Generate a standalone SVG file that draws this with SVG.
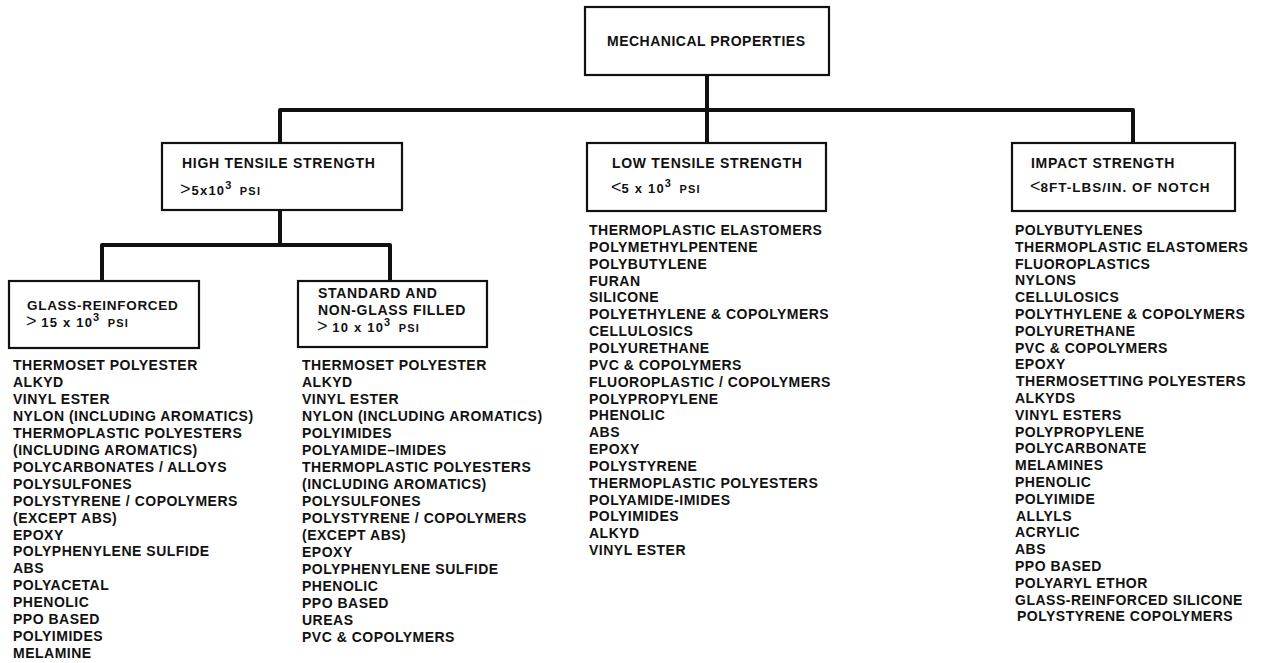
<svg xmlns="http://www.w3.org/2000/svg" width="1267" height="663" viewBox="0 0 1267 663">
<style>
  .box { fill: #fff; stroke: #111; stroke-width: 2.2; }
  .conn { fill: none; stroke: #111; stroke-width: 4; stroke-linejoin: round; }
  text { font-family: "Liberation Sans", Arial, sans-serif; font-weight: bold; fill: #111; }
  .hd { font-size: 14px; letter-spacing: 0.7px; }
  .val { font-size: 13px; letter-spacing: 1.2px; }
  .sym { font-weight: normal; font-size: 18px; letter-spacing: 0; }
  .sup { font-size: 11px; }
  .psi { font-size: 11px; }
  .lst { font-size: 14px; letter-spacing: 0.5px; }
</style>
<rect width="1267" height="663" fill="#fff"/>
<g id="connectors">
  <path class="conn" d="M707,75 V110"/>
  <path class="conn" d="M280,143 V110 H1133 V143"/>
  <path class="conn" d="M707,110 V143"/>
  <path class="conn" d="M280,210 V245"/>
  <path class="conn" d="M102,281 V245 H390 V281"/>
</g>
<g id="mechanical-properties">
  <rect class="box" x="585" y="7" width="244" height="68"/>
  <text class="hd" x="607" y="46" style="letter-spacing:0.5px">MECHANICAL PROPERTIES</text>
</g>
<g id="high-tensile">
  <rect class="box" x="162" y="143" width="240" height="67"/>
  <text class="hd" x="182" y="168">HIGH TENSILE STRENGTH</text>
  <text class="val" x="180" y="195"><tspan class="sym">&gt;</tspan><tspan dx="1">5x10</tspan><tspan class="sup" dy="-6">3</tspan><tspan class="psi" dy="6" dx="3"> PSI</tspan></text>
</g>
<g id="low-tensile">
  <rect class="box" x="587" y="143" width="239" height="68"/>
  <text class="hd" x="612" y="168">LOW TENSILE STRENGTH</text>
  <text class="val" x="611" y="193"><tspan class="sym">&lt;</tspan>5 x 10<tspan class="sup" dy="-6">3</tspan><tspan class="psi" dy="6" dx="3"> PSI</tspan></text>
  <text class="lst" x="589"><tspan x="589" y="235">THERMOPLASTIC ELASTOMERS</tspan><tspan x="589" dy="16.85">POLYMETHYLPENTENE</tspan><tspan x="589" dy="16.85">POLYBUTYLENE</tspan><tspan x="589" dy="16.85">FURAN</tspan><tspan x="589" dy="16.85">SILICONE</tspan><tspan x="589" dy="16.85">POLYETHYLENE &amp; COPOLYMERS</tspan><tspan x="589" dy="16.85">CELLULOSICS</tspan><tspan x="589" dy="16.85">POLYURETHANE</tspan><tspan x="589" dy="16.85">PVC &amp; COPOLYMERS</tspan><tspan x="589" dy="16.85">FLUOROPLASTIC / COPOLYMERS</tspan><tspan x="589" dy="16.85">POLYPROPYLENE</tspan><tspan x="589" dy="16.85">PHENOLIC</tspan><tspan x="589" dy="16.85">ABS</tspan><tspan x="589" dy="16.85">EPOXY</tspan><tspan x="589" dy="16.85">POLYSTYRENE</tspan><tspan x="589" dy="16.85">THERMOPLASTIC POLYESTERS</tspan><tspan x="589" dy="16.85">POLYAMIDE-IMIDES</tspan><tspan x="589" dy="16.85">POLYIMIDES</tspan><tspan x="589" dy="16.85">ALKYD</tspan><tspan x="589" dy="16.85">VINYL ESTER</tspan></text>
</g>
<g id="impact-strength">
  <rect class="box" x="1012" y="143" width="223" height="68"/>
  <text class="hd" x="1031" y="168">IMPACT STRENGTH</text>
  <text class="val" x="1030" y="192" style="font-size:13.5px;letter-spacing:1px"><tspan class="sym">&lt;</tspan>8FT-LBS/IN. OF  NOTCH</text>
  <text class="lst" x="1015"><tspan x="1015" y="235">POLYBUTYLENES</tspan><tspan x="1015" dy="16.8">THERMOPLASTIC ELASTOMERS</tspan><tspan x="1015" dy="16.8">FLUOROPLASTICS</tspan><tspan x="1015" dy="16.8">NYLONS</tspan><tspan x="1015" dy="16.8">CELLULOSICS</tspan><tspan x="1015" dy="16.8">POLYTHYLENE &amp; COPOLYMERS</tspan><tspan x="1015" dy="16.8">POLYURETHANE</tspan><tspan x="1015" dy="16.8">PVC &amp; COPOLYMERS</tspan><tspan x="1015" dy="16.8">EPOXY</tspan><tspan x="1016" dy="16.8">THERMOSETTING POLYESTERS</tspan><tspan x="1015" dy="16.8">ALKYDS</tspan><tspan x="1015" dy="16.8">VINYL ESTERS</tspan><tspan x="1015" dy="16.8">POLYPROPYLENE</tspan><tspan x="1015" dy="16.8">POLYCARBONATE</tspan><tspan x="1015" dy="16.8">MELAMINES</tspan><tspan x="1015" dy="16.8">PHENOLIC</tspan><tspan x="1015" dy="16.8">POLYIMIDE</tspan><tspan x="1016" dy="16.8">ALLYLS</tspan><tspan x="1015" dy="16.8">ACRYLIC</tspan><tspan x="1015" dy="16.8">ABS</tspan><tspan x="1015" dy="16.8">PPO BASED</tspan><tspan x="1015" dy="16.8">POLYARYL ETHOR</tspan><tspan x="1015" dy="16.8">GLASS-REINFORCED SILICONE</tspan><tspan x="1017" dy="16.8">POLYSTYRENE COPOLYMERS</tspan></text>
</g>
<g id="glass-reinforced">
  <rect class="box" x="9" y="281" width="190" height="67"/>
  <text class="hd" x="27" y="310" style="font-size:13.5px">GLASS-REINFORCED</text>
  <text class="val" x="26" y="327"><tspan class="sym">&gt;</tspan> 15 x 10<tspan class="sup" dy="-6">3</tspan><tspan class="psi" dy="6" dx="3"> PSI</tspan></text>
  <text class="lst" x="13"><tspan x="13" y="370">THERMOSET POLYESTER</tspan><tspan x="13" dy="16.95">ALKYD</tspan><tspan x="13" dy="16.95">VINYL ESTER</tspan><tspan x="13" dy="16.95">NYLON (INCLUDING AROMATICS)</tspan><tspan x="13" dy="16.95">THERMOPLASTIC POLYESTERS</tspan><tspan x="13" dy="16.95">(INCLUDING AROMATICS)</tspan><tspan x="13" dy="16.95">POLYCARBONATES / ALLOYS</tspan><tspan x="13" dy="16.95">POLYSULFONES</tspan><tspan x="13" dy="16.95">POLYSTYRENE / COPOLYMERS</tspan><tspan x="13" dy="16.95">(EXCEPT ABS)</tspan><tspan x="13" dy="16.95">EPOXY</tspan><tspan x="13" dy="16.95">POLYPHENYLENE SULFIDE</tspan><tspan x="13" dy="16.95">ABS</tspan><tspan x="13" dy="16.95">POLYACETAL</tspan><tspan x="13" dy="16.95">PHENOLIC</tspan><tspan x="13" dy="16.95">PPO BASED</tspan><tspan x="13" dy="16.95">POLYIMIDES</tspan><tspan x="13" dy="16.95">MELAMINE</tspan></text>
</g>
<g id="standard-non-glass">
  <rect class="box" x="298" y="281" width="189" height="66"/>
  <text class="hd" x="318" y="298">STANDARD AND</text>
  <text class="hd" x="318" y="315">NON-GLASS FILLED</text>
  <text class="val" x="317" y="332"><tspan class="sym">&gt;</tspan> 10 x 10<tspan class="sup" dy="-6">3</tspan><tspan class="psi" dy="6" dx="3"> PSI</tspan></text>
  <text class="lst" x="302"><tspan x="302" y="370">THERMOSET POLYESTER</tspan><tspan x="302" dy="17">ALKYD</tspan><tspan x="302" dy="17">VINYL ESTER</tspan><tspan x="302" dy="17">NYLON (INCLUDING AROMATICS)</tspan><tspan x="302" dy="17">POLYIMIDES</tspan><tspan x="302" dy="17">POLYAMIDE–IMIDES</tspan><tspan x="302" dy="17">THERMOPLASTIC POLYESTERS</tspan><tspan x="302" dy="17">(INCLUDING AROMATICS)</tspan><tspan x="302" dy="17">POLYSULFONES</tspan><tspan x="302" dy="17">POLYSTYRENE / COPOLYMERS</tspan><tspan x="302" dy="17">(EXCEPT ABS)</tspan><tspan x="302" dy="17">EPOXY</tspan><tspan x="302" dy="17">POLYPHENYLENE SULFIDE</tspan><tspan x="302" dy="17">PHENOLIC</tspan><tspan x="302" dy="17">PPO BASED</tspan><tspan x="302" dy="17">UREAS</tspan><tspan x="302" dy="17">PVC &amp; COPOLYMERS</tspan></text>
</g>
</svg>
